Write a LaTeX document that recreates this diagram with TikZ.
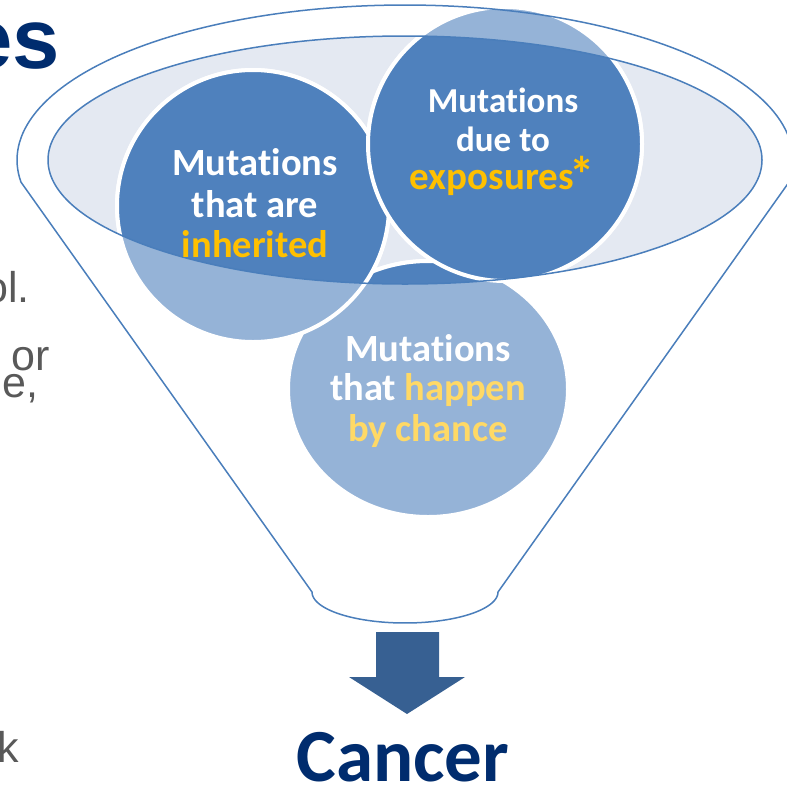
\documentclass[tikz,border=0pt]{standalone}
\usepackage{fontspec}
\usepackage{graphicx}
\setmainfont{Carlito}[Ligatures={NoCommon}]
\newfontfamily\arialf{Liberation Sans}
\definecolor{cDark}{HTML}{4F81BD}
\definecolor{cLight}{HTML}{95B3D7}
\definecolor{cEll}{HTML}{E4E9F2}
\definecolor{cEdge}{HTML}{4A7EBB}
\definecolor{cYel}{HTML}{FFC000}
\definecolor{cYelL}{HTML}{FFD966}
\definecolor{cNavy}{HTML}{002C6E}
\definecolor{cGray}{HTML}{595959}
\definecolor{cArrow}{HTML}{376092}
\tikzset{
  lightc/.style={fill=cLight, draw=white, line width=4pt},
  darkc/.style={fill=cDark, draw=white, line width=4pt},
  rim/.style={draw=cEdge, line width=1.5pt},
  lblA/.style={anchor=base, inner sep=0pt, text=white, font=\bfseries\fontsize{38.5}{42}\selectfont},
  lblB/.style={anchor=base, inner sep=0pt, text=white, font=\bfseries\fontsize{35}{40}\selectfont},
  lblC/.style={anchor=base, inner sep=0pt, text=cYel, font=\bfseries\fontsize{39}{42}\selectfont},
  frag/.style={inner sep=0pt, text=cGray, font=\arialf\fontsize{43}{48}\selectfont},
}
\begin{document}
\begin{tikzpicture}[x=1pt,y=-1pt]
\useasboundingbox (0,0) rectangle (787,785);
\clip (0,0) rectangle (787,785);

% left slide text fragments
\node[anchor=base east, inner sep=0pt, text=cNavy, font=\arialf\bfseries\fontsize{85}{90}\selectfont] (es) at (60,68) {es};
\node[frag, anchor=base east] (f1) at (30,302) {ol.};
\node[frag, anchor=base west] (f2) at (11.5,370) {or};
\node[frag, anchor=base east, text height=0.5em] (f3) at (39,397) {e,};
\node[frag, anchor=base east] (f4) at (19,762) {k};

% inner ellipse fill
\fill[cEll] (405,160) ellipse [x radius=357, y radius=124];

% circles, light (outside the ellipse)
\path[lightc] (428,389) ellipse [x radius=140, y radius=128];
\path[lightc] (253,206) circle [radius=136];
\path[lightc] (505,144) circle [radius=137];

% circles, dark (inside the ellipse)
\begin{scope}
  \clip (405,160) ellipse [x radius=357, y radius=124];
  \path[darkc] (428,389) ellipse [x radius=140, y radius=128];
  \path[darkc] (253,206) circle [radius=136];
  \path[darkc] (505,144) circle [radius=137];
\end{scope}

% inner ellipse outline
\draw[rim] (405,160) ellipse [x radius=357, y radius=124];

% funnel outline
\draw[rim, line join=round]
  plot[domain=171.8:368.2, samples=120] ({405+388*cos(\x)},{160+155*sin(\x)})
  -- (498,592)
  -- plot[domain=0:180, samples=60] ({405+93*cos(\x)},{592+31*sin(\x)})
  -- cycle;

% arrow
\fill[cArrow] (376,632) -- (439,632) -- (439,677) -- (465,677) -- (407,714)
  -- (349,677) -- (376,677) -- cycle;

% circle texts
\node[lblA] (L1) at (255,175) {Mutations};
\node[lblA] (L2) at (255,217) {that are};
\node[lblA, text=cYel] (L3) at (255,257) {inherited};

\node[lblB] (R1) at (503,112) {Mutations};
\node[lblB] (R2) at (503,151) {due to};
\node[lblC] (R3) at (502,189) {exposures\kern-0.12em\raisebox{-0.1em}{\scalebox{1.3}{*}}};

\node[lblA] (B1) at (428,361) {Mutations};
\node[lblA] (B2) at (428,400) {that \textcolor{cYelL}{happen}};
\node[lblA, text=cYelL] (B3) at (428,441) {by chance};

\node[anchor=base, inner sep=0pt, text=cNavy, font=\bfseries\fontsize{75}{80}\selectfont] (cancer) at (403,781) {Cancer};
\end{tikzpicture}
\end{document}
